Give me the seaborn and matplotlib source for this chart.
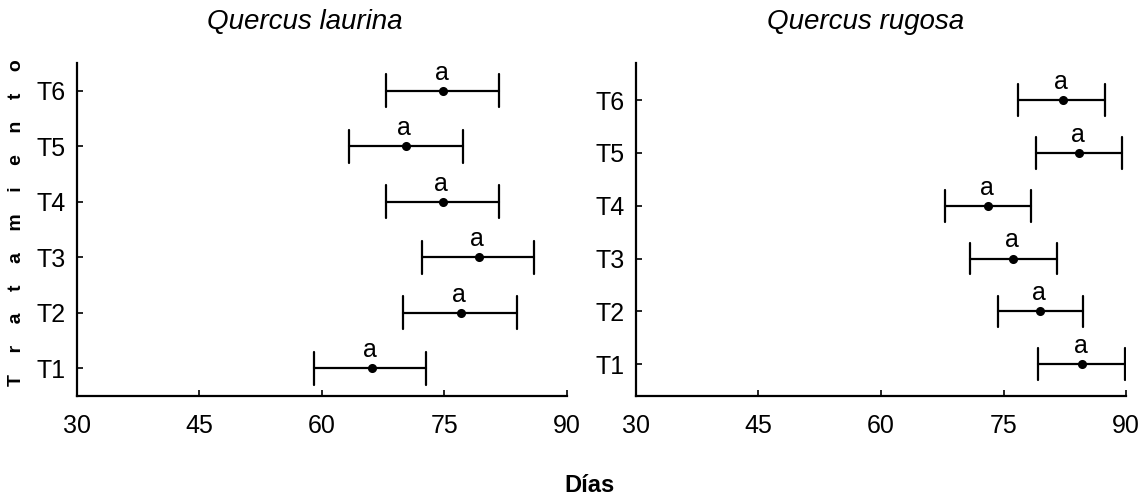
import numpy as np
import pandas as pd
import matplotlib
matplotlib.use("Agg")
import matplotlib.pyplot as plt
import seaborn as sns

# ---- data ----
treatments = ["T6", "T5", "T4", "T3", "T2", "T1"]

laurina_mean = [74.9, 70.3, 74.8, 79.2, 77.0, 66.1]
laurina_low = [67.9, 63.4, 67.9, 72.3, 70.0, 59.1]
laurina_high = [81.7, 77.3, 81.7, 86.0, 83.9, 72.8]

rugosa_mean = [82.2, 84.2, 73.1, 76.2, 79.5, 84.6]
rugosa_low = [76.8, 79.0, 67.8, 70.9, 74.3, 79.2]
rugosa_high = [87.4, 89.5, 78.4, 81.5, 84.7, 89.8]

letters_laurina = ["a"] * 6
letters_rugosa = ["a"] * 6

titles = ["Quercus laurina", "Quercus rugosa"]
x_ticks = [30, 45, 60, 75, 90]

sns.set_theme(style="ticks")
plt.rcParams["font.family"] = ["Liberation Sans", "DejaVu Sans"]
plt.rcParams["text.color"] = "black"
plt.rcParams["axes.labelcolor"] = "black"
plt.rcParams["xtick.color"] = "black"
plt.rcParams["ytick.color"] = "black"

fig = plt.figure(figsize=(11.43, 5.01), dpi=100)
W, H = 1143, 501
ax1 = fig.add_axes([76.7 / W, 1 - 396 / H, 490 / W, 333 / H])
ax2 = fig.add_axes([635.7 / W, 1 - 396 / H, 490.6 / W, 333 / H])


def long_form(mean, low, high):
    rows = []
    for t, m, lo, hi in zip(treatments, mean, low, high):
        for v in (lo, m, hi):
            rows.append({"Tratamiento": t, "Dias": v})
    return pd.DataFrame(rows)


panels = [
    (ax1, laurina_mean, laurina_low, laurina_high, letters_laurina, (5.5, -0.5)),
    (ax2, rugosa_mean, rugosa_low, rugosa_high, letters_rugosa, (5.6, -0.7)),
]

for ax, mean, low, high, letters, ylim in panels:
    df = long_form(mean, low, high)
    sns.pointplot(
        data=df, x="Dias", y="Tratamiento", order=treatments,
        estimator="median", errorbar=("pi", 100),
        color="black", linestyle="none", markers="o",
        markersize=4.5, capsize=0.6,
        err_kws={"linewidth": 1.6}, ax=ax,
    )
    for t, m, lab in zip(treatments, mean, letters):
        ax.annotate(lab, xy=(m, treatments.index(t)), xytext=(-1, 8),
                    textcoords="offset points", ha="center", va="baseline",
                    fontsize=18, color="black")
    ax.set_xlim(30, 90)
    ax.set_ylim(*ylim)
    ax.set_xticks(x_ticks)
    ax.set_xlabel("")
    ax.set_ylabel("")
    sns.despine(ax=ax)
    for s in ["left", "bottom"]:
        ax.spines[s].set_linewidth(1.6)
        ax.spines[s].set_color("black")
    ax.tick_params(axis="both", direction="in", length=4, width=1.2,
                   labelsize=18, colors="black", labelcolor="black")
    ax.tick_params(axis="x", pad=13)
    ax.tick_params(axis="y", pad=8)
    ax.grid(False)

fig.text(305 / W, 1 - 22 / H, titles[0], ha="center", va="center",
         fontsize=20, style="italic", color="black")
fig.text(866 / W, 1 - 22 / H, titles[1], ha="center", va="center",
         fontsize=20, style="italic", color="black")

fig.text(17 / W, 1 - 223 / H, "T    r    a    t    a    m    i    e    n    t    o",
         rotation=90, ha="center", va="center", fontsize=14, fontweight="bold",
         color="black")
fig.text(590 / W, 1 - 485 / H, "Días", ha="center", va="center",
         fontsize=17, fontweight="bold", color="black")

fig.savefig("out.png", dpi=100)
